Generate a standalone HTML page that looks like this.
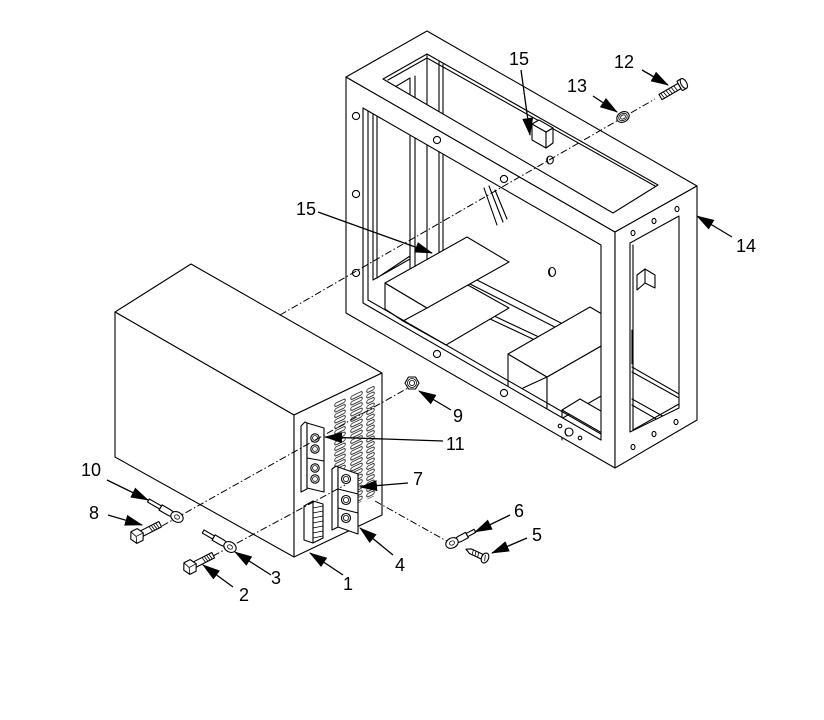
<!DOCTYPE html>
<html><head><meta charset="utf-8"><style>
html,body{margin:0;padding:0;background:#fff;}
svg{display:block;}
.l{fill:none;stroke:#000;stroke-width:1.1;stroke-linejoin:round;stroke-linecap:round}
.w{fill:#fff;stroke:#000;stroke-width:1.1;stroke-linejoin:round}
.t{fill:none;stroke:#000;stroke-width:0.8}
.dd{fill:none;stroke:#000;stroke-width:1;stroke-dasharray:7 2.5 1.5 2.5}
.ld{fill:none;stroke:#000;stroke-width:1.3}
text{font-family:"Liberation Sans",Arial,sans-serif;font-size:18px;fill:#000}
</style></head><body>
<svg width="824" height="720" viewBox="0 0 824 720" xmlns="http://www.w3.org/2000/svg">
<defs>
<marker id="ah" markerUnits="userSpaceOnUse" markerWidth="18" markerHeight="11" refX="17" refY="5.5" orient="auto" viewBox="0 0 18 11"><path d="M0,0 L18,5.5 L0,11 Z" fill="#000"/></marker>
<pattern id="v1" patternUnits="userSpaceOnUse" width="12" height="5.5"><rect x="0.7" y="0.9" width="10.6" height="3.4" rx="1.7" fill="#fff" stroke="#000" stroke-width="0.8"/></pattern>
<pattern id="v2" patternUnits="userSpaceOnUse" width="13" height="5.5"><rect x="0.7" y="0.9" width="11.6" height="3.4" rx="1.7" fill="#fff" stroke="#000" stroke-width="0.8"/></pattern>
<pattern id="v3" patternUnits="userSpaceOnUse" width="9" height="5.5"><rect x="0.7" y="0.9" width="7.6" height="3.4" rx="1.7" fill="#fff" stroke="#000" stroke-width="0.8"/></pattern>
</defs>
<rect width="824" height="720" fill="#fff"/>

<!-- ===== Frame interior (item 14) ===== -->
<path class="l" d="M373,100 V280 M377,102 V278 M373,280 L410,259 M377,278 L410,256 M373,100 L410,78 M410,78 V272 M415,76 V270 M427,54 V262 M439,62 V256 M443,64 V254"/>
<path class="l" d="M470,284 L600,350 M477,280 L600,343 M488,318 L537,341 M492,315 L541,338"/>
<polygon class="w" points="403,321 466,284 509,308 446,345"/>
<polygon class="w" points="385,283 427,308 403,321 385,309"/>
<polygon class="w" points="385,283 467,237 509,262 427,308"/>
<!-- box C -->
<polygon class="w" points="508,354 547,377 547,425 508,402"/>
<polygon class="w" points="547,377 629,330 629,380 547,427"/>
<polygon class="w" points="508,354 590,307 629,330 547,377"/>
<path class="l" d="M523,388 L547,377"/>
<!-- box D -->
<polygon class="w" points="562,410 580,399 620,422 602,433"/>
<path class="l" d="M562,410 V440"/>
<!-- back wall hole -->
<ellipse class="w" cx="552" cy="272" rx="3.5" ry="4.5"/>
<path class="l" d="M550,269 Q548,273 551,276"/>
<!-- through right opening -->
<path class="l" d="M632,330 V364 M632,367 L679,394 M632,372 L679,398 M632,399 L668,419 M632,405 L658,420"/>

<!-- ===== Frame faces ===== -->
<path class="w" fill-rule="evenodd" d="M346,77 L615,232 L615,468 L346,313 Z M363,108 L363,303 L601,440 L601,245 Z"/>
<path class="w" fill-rule="evenodd" d="M346,77 L427,31 L697,186 L615,232 Z M383,79 L613,213 L658,185 L427,54 Z"/>
<path class="w" fill-rule="evenodd" d="M615,232 L697,186 L697,420 L615,468 Z M630,243 L630,432 L679,408 L679,216 Z"/>
<path class="l" d="M368,111 V300 L601,434 M388,80 L427,58 L655,186 M633,245 V430 L679,404"/>
<!-- front holes -->
<g class="w">
<circle cx="356" cy="116" r="3.6"/><circle cx="356" cy="194" r="3.6"/><circle cx="356" cy="273" r="3.6"/>
<circle cx="437" cy="140" r="3.6"/><circle cx="504" cy="179" r="3.6"/>
<circle cx="437" cy="354" r="3.6"/><circle cx="504" cy="393" r="3.6"/>
<circle cx="560" cy="426" r="1.8"/><circle cx="569" cy="432" r="4"/><circle cx="580" cy="438" r="1.8"/>
<ellipse cx="633" cy="233" rx="2" ry="2.6"/><ellipse cx="654" cy="221" rx="2" ry="2.6"/><ellipse cx="677" cy="209" rx="2" ry="2.6"/>
<ellipse cx="633" cy="447" rx="2" ry="2.6"/><ellipse cx="654" cy="434" rx="2" ry="2.6"/><ellipse cx="676" cy="422" rx="2" ry="2.6"/>
</g>
<path class="l" d="M566,429 Q564,433 567,436"/>
<!-- side bracket -->
<path class="w" d="M637,275 L645,269 L655,275 V288 L645,283 L637,290 Z"/>
<path class="l" d="M645,269 V283"/>
<!-- item 15 top -->
<polygon class="w" points="532,140 546,148 546,132 532,124"/>
<polygon class="w" points="546,132 553,128 553,143 546,148"/>
<polygon class="w" points="532,124 539,120 553,128 546,132"/>
<ellipse class="w" cx="550" cy="160" rx="3.3" ry="4"/>
<path class="l" d="M548,157 Q546,161 549,164"/>

<!-- dash-dot axis 12/13 -->
<path class="dd" d="M280,315 L655,99"/>
<path class="l" d="M484,188 L497,225 M489,186 L503,222 M495,190 L507,219"/>

<!-- ===== Unit (item 1) ===== -->
<polygon class="w" points="115,312 191,264 382,373 294,415"/>
<polygon class="w" points="115,312 294,415 294,557 115,457"/>
<polygon class="w" points="294,415 382,373 382,515 294,557"/>
<g transform="translate(334,403) skewY(-25.5)"><rect x="0" y="0" width="12" height="108" fill="url(#v1)"/></g>
<g transform="translate(350,396) skewY(-25.5)"><rect x="0" y="0" width="13" height="111" fill="url(#v2)"/></g>
<g transform="translate(366,389) skewY(-25.5)"><rect x="0" y="0" width="9" height="111" fill="url(#v3)"/></g>
<!-- block 11 -->
<path class="w" d="M301,426 L305,422 L307,423 V489 L301,492 Z"/>
<path class="w" d="M307,423 L324,428 V492 L307,488 Z"/>
<path class="l" d="M307,458 L324,461"/>
<g class="w"><circle cx="315" cy="438" r="4.2"/><circle cx="315" cy="449" r="4.2"/><circle cx="315" cy="468" r="4.2"/><circle cx="315" cy="479" r="4.2"/></g>
<g class="t"><circle cx="315" cy="438" r="2.4"/><circle cx="315" cy="449" r="2.4"/><circle cx="315" cy="468" r="2.4"/><circle cx="315" cy="479" r="2.4"/></g>
<!-- block 7 -->
<path class="w" d="M332,469 L336,466 L338,467 V527 L332,530 Z"/>
<path class="w" d="M338,467 L358,474 V534 L338,527 Z"/>
<path class="l" d="M338,489 L358,494 M338,508 L358,513"/>
<g class="w"><circle cx="346" cy="479" r="4.5"/><circle cx="346" cy="500" r="4.5"/><circle cx="346" cy="518" r="4.5"/></g>
<g class="t"><circle cx="346" cy="479" r="2.6"/><circle cx="346" cy="500" r="2.6"/><circle cx="346" cy="518" r="2.6"/></g>
<!-- connector -->
<path class="w" d="M304,506 L313,501 L323,504 V538 L313,543 L304,540 Z"/>
<path class="l" d="M313,501 V543"/>
<path class="t" d="M313,508 L323,506 M313,513 L323,511 M313,518 L323,516 M313,523 L323,521 M313,528 L323,526 M313,533 L323,531 M313,538 L323,536"/>

<!-- dash-dot lines lower -->
<path class="dd" d="M162,526 L408,388"/>
<path class="dd" d="M213,556 L345,485"/>
<path class="dd" d="M375,501 L452,544"/>

<!-- ===== Hardware ===== -->
<!-- nut 9 -->
<polygon class="w" points="419,383 415.5,389 408.5,389 405,383 408.5,377 415.5,377"/>
<circle class="t" cx="412" cy="383" r="4.5"/><circle class="t" cx="412" cy="383" r="2.6"/>
<!-- washer 13 -->
<g transform="translate(623,117) rotate(-30)"><ellipse class="w" cx="0" cy="0" rx="6.5" ry="5"/><ellipse class="t" cx="0" cy="0" rx="4.5" ry="3.4"/><ellipse class="t" cx="0" cy="0" rx="2.6" ry="1.9"/></g>
<!-- screw 12 -->
<g transform="translate(683,84) rotate(150)">
<rect class="w" x="4" y="-3" width="22" height="6"/>
<path class="t" d="M8,-3 L9,3 M11,-3 L12,3 M14,-3 L15,3 M17,-3 L18,3 M20,-3 L21,3 M23,-3 L24,3"/>
<rect class="w" x="-1" y="-5.5" width="5" height="11" rx="1"/>
<ellipse class="w" cx="-1" cy="0" rx="2.8" ry="5.5"/>
</g>
<!-- ring 10 -->
<g transform="translate(177,517) rotate(210)">
<path class="w" d="M5,-2.5 L9,-3 L19,-3 L19,3 L9,3 L5,2.5 Z"/>
<rect class="w" x="19" y="-1.8" width="14" height="3.6"/>
<ellipse class="w" cx="0" cy="0" rx="6.5" ry="5"/><ellipse class="t" cx="0" cy="0" rx="2.6" ry="2"/>
</g>
<!-- ring 3 -->
<g transform="translate(230,547) rotate(210)">
<path class="w" d="M5,-2.5 L9,-3 L19,-3 L19,3 L9,3 L5,2.5 Z"/>
<rect class="w" x="19" y="-1.8" width="12" height="3.6"/>
<ellipse class="w" cx="0" cy="0" rx="6.5" ry="5"/><ellipse class="t" cx="0" cy="0" rx="2.6" ry="2"/>
</g>
<!-- ring 6 -->
<g transform="translate(452,543) rotate(-28)">
<path class="w" d="M5,-2.5 L9,-3 L17,-3 L17,3 L9,3 L5,2.5 Z"/>
<rect class="w" x="17" y="-1.8" width="9" height="3.6"/>
<ellipse class="w" cx="0" cy="0" rx="6.5" ry="5"/><ellipse class="t" cx="0" cy="0" rx="2.6" ry="2"/>
</g>
<!-- screw 5 -->
<g transform="translate(485,558) rotate(205)">
<path class="w" d="M3,-2.5 L16,-2.5 L21,0 L16,2.5 L3,2.5 Z"/>
<path class="t" d="M7,-2.5 L8,2.5 M10,-2.5 L11,2.5 M13,-2.5 L14,2.5"/>
<ellipse class="w" cx="0" cy="0" rx="3.5" ry="5.2"/>
<path class="t" d="M-1,-3 L1,3"/>
</g>
<!-- bolt 8 -->
<g transform="translate(137,536) rotate(-27)">
<rect class="w" x="5" y="-3" width="21" height="6"/>
<path class="t" d="M15,-3 L16,3 M17.5,-3 L18.5,3 M20,-3 L21,3 M22.5,-3 L23.5,3"/>
<polygon class="w" points="-7,0 -3.5,-6.5 3.5,-6.5 7,0 3.5,6.5 -3.5,6.5"/>
<path class="t" d="M-3.5,-6.5 L-1,0 L-3.5,6.5 M-1,0 H7"/>
</g>
<!-- bolt 2 -->
<g transform="translate(190,567) rotate(-27)">
<rect class="w" x="5" y="-3" width="21" height="6"/>
<path class="t" d="M15,-3 L16,3 M17.5,-3 L18.5,3 M20,-3 L21,3 M22.5,-3 L23.5,3"/>
<polygon class="w" points="-7,0 -3.5,-6.5 3.5,-6.5 7,0 3.5,6.5 -3.5,6.5"/>
<path class="t" d="M-3.5,-6.5 L-1,0 L-3.5,6.5 M-1,0 H7"/>
</g>

<!-- ===== Leaders ===== -->
<g class="ld" marker-end="url(#ah)">
<line x1="521" y1="70" x2="530" y2="135"/>
<line x1="642" y1="70" x2="668" y2="85"/>
<line x1="593" y1="96" x2="617" y2="112"/>
<line x1="732" y1="237" x2="697" y2="216"/>
<line x1="318" y1="212" x2="432" y2="253"/>
<line x1="451" y1="410" x2="419" y2="391"/>
<line x1="443" y1="441" x2="325" y2="437"/>
<line x1="408" y1="483" x2="360" y2="487"/>
<line x1="393" y1="555" x2="360" y2="528"/>
<line x1="343" y1="575" x2="310" y2="553"/>
<line x1="510" y1="515" x2="475" y2="532"/>
<line x1="527" y1="538" x2="492" y2="553"/>
<line x1="271" y1="575" x2="235" y2="552"/>
<line x1="233" y1="587" x2="203" y2="565"/>
<line x1="108" y1="515" x2="142" y2="525"/>
<line x1="107" y1="480" x2="148" y2="500"/>
</g>

<!-- ===== Labels ===== -->
<text x="509" y="65">15</text>
<text x="614" y="68">12</text>
<text x="567" y="92">13</text>
<text x="736" y="252">14</text>
<text x="296" y="215">15</text>
<text x="453" y="422">9</text>
<text x="446" y="450">11</text>
<text x="413" y="485">7</text>
<text x="514" y="517">6</text>
<text x="532" y="541">5</text>
<text x="395" y="571">4</text>
<text x="343" y="590">1</text>
<text x="271" y="584">3</text>
<text x="239" y="601">2</text>
<text x="89" y="519">8</text>
<text x="81" y="476">10</text>
</svg>
</body></html>
